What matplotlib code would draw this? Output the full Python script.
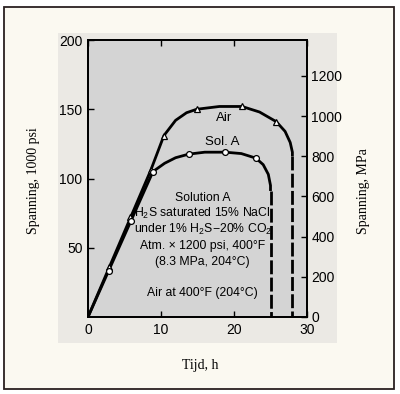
import matplotlib
matplotlib.use("Agg")
import matplotlib.pyplot as plt
from matplotlib.patches import Rectangle

# ---- data ----
air_x = [0, 8.6, 10.4, 12.0, 13.5, 14.9, 18.0, 21.1, 23.5, 25.8, 27.0, 27.7, 28.0, 28.0]
air_y = [0, 106, 131, 142, 147.5, 150, 152, 152, 148, 141, 134, 126, 119, 116]
air_mx = [2.9, 5.75, 8.6, 10.4, 14.9, 21.1, 25.8]
air_my = [36, 72, 106, 131, 150, 152, 141]
air_dash_x = [28.0, 28.0]
air_dash_y = [116, 0]

sol_x = [0, 8.9, 10.5, 12.0, 13.8, 16.0, 18.8, 21.0, 23.0, 24.0, 24.7, 25.0, 25.0]
sol_y = [0, 105, 111, 115, 117.6, 119, 119, 118, 114.7, 110, 103, 95, 91]
sol_mx = [2.9, 5.9, 8.9, 13.8, 18.8, 23.0]
sol_my = [33, 69, 105, 117.6, 119, 114.7]
sol_dash_x = [25.0, 25.0]
sol_dash_y = [91, 0]

x_ticks = [0, 10, 20, 30]
y_ticks = [50, 100, 150, 200]
mpa_ticks = [0, 200, 400, 600, 800, 1000, 1200]
KSI_TO_MPA = 6.895

note_lines = ["Solution A",
              r"H$_2$S saturated 15% NaCl",
              r"under 1% H$_2$S$-$20% CO$_2$",
              "Atm. × 1200 psi, 400°F",
              "(8.3 MPa, 204°C)",
              "",
              "Air at 400°F (204°C)"]

sans = ["Liberation Sans", "DejaVu Sans"]
serif = ["Liberation Serif", "DejaVu Serif"]
plt.rcParams["mathtext.fontset"] = "custom"
plt.rcParams["mathtext.rm"] = "Liberation Sans"
plt.rcParams["mathtext.it"] = "Liberation Sans"
plt.rcParams["mathtext.sf"] = "Liberation Sans"

fig = plt.figure(figsize=(4.0, 3.94), dpi=100)
fig.patch.set_facecolor("white")
W, H = 400, 394
def fr(x0, y0, x1, y1):
    return (x0 / W, 1 - y1 / H), (x1 - x0) / W, (y1 - y0) / H

xy, w, h = fr(4, 7, 394, 389)
fig.patches.append(Rectangle(xy, w, h, transform=fig.transFigure, zorder=-2,
                             facecolor="#fbf9f1", edgecolor="#2a2020", lw=1.3))
xy, w, h = fr(58, 33, 337, 343)
fig.patches.append(Rectangle(xy, w, h, transform=fig.transFigure, zorder=-1,
                             facecolor="#ebe9e4", edgecolor="none"))

ax = fig.add_axes([88 / W, 1 - 317 / H, (307 - 88) / W, (317 - 40) / H])
ax.set_facecolor("#d4d4d4")
ax.set_xlim(0, 30)
ax.set_ylim(0, 200)

lw = 2.0
ax.plot(air_x, air_y, color="black", lw=lw, solid_capstyle="butt")
ax.plot(sol_x, sol_y, color="black", lw=lw, solid_capstyle="butt")
ax.plot(air_dash_x, air_dash_y, color="black", lw=lw, dashes=(5, 1.2))
ax.plot(sol_dash_x, sol_dash_y, color="black", lw=lw, dashes=(5, 1.2))
ax.plot(air_mx, air_my, ls="none", marker="^", ms=4.2, mfc="white", mec="black", mew=0.9)
ax.plot(sol_mx, sol_my, ls="none", marker="o", ms=4.2, mfc="white", mec="black", mew=0.9)

ax.text(18.7, 144, "Air", ha="center", va="center", fontsize=9.5, family=sans)
ax.text(18.4, 126, "Sol. A", ha="center", va="center", fontsize=9.5, family=sans)
y0 = 86
for i, line in enumerate(note_lines):
    if line:
        ax.text(15.7, y0 - i * 11.5, line, ha="center", va="center",
                fontsize=8.8, family=sans)

ax.set_xticks(x_ticks)
ax.set_yticks(y_ticks)
ax.tick_params(direction="in", length=4, width=1, top=True, labeltop=False,
               labelsize=10, pad=4)
for lab in ax.get_xticklabels() + ax.get_yticklabels():
    lab.set_family(sans)
for s in ax.spines.values():
    s.set_linewidth(1.3)

ax2 = ax.twinx()
ax2.set_ylim(0, 200 * KSI_TO_MPA)
ax2.set_yticks(mpa_ticks)
ax2.tick_params(direction="in", length=4, width=1, labelsize=10, pad=3)
for lab in ax2.get_yticklabels():
    lab.set_family(sans)
for s in ax2.spines.values():
    s.set_linewidth(1.3)

fig.text(33 / W, 1 - 181 / H, "Spanning, 1000 psi", rotation=90, ha="center",
         va="center", fontsize=10, family=serif)
fig.text(363 / W, 1 - 191 / H, "Spanning, MPa", rotation=90, ha="center",
         va="center", fontsize=10, family=serif)
fig.text(200 / W, 1 - 365 / H, "Tijd, h", ha="center", va="center",
         fontsize=10, family=serif)

fig.savefig("out.png", dpi=100)
